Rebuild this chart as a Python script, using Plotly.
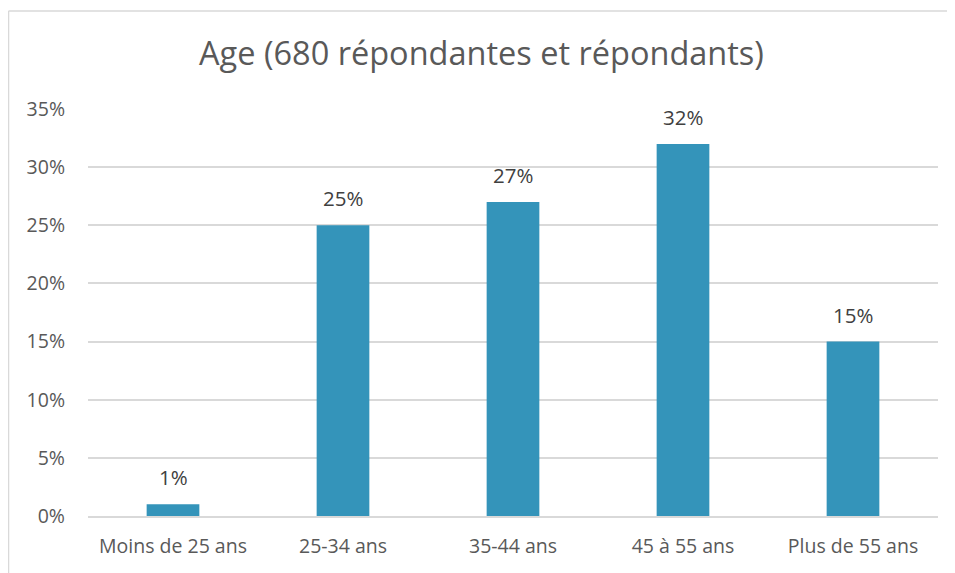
import plotly.graph_objects as go

# %%
categories = ["Moins de 25 ans", "25-34 ans", "35-44 ans", "45 à 55 ans", "Plus de 55 ans"]
values = [1, 25, 27, 32, 15]
tick_vals = [0, 5, 10, 15, 20, 25, 30, 35]
tick_text = ["0%", "5%", "10%", "15%", "20%", "25%", "30%", "35%"]

font_name = "Open Sans"
grey = "#595959"

# %%
fig = go.Figure()
fig.add_trace(go.Bar(x=categories, y=values, marker_color="#3494BA",
                     marker_line_width=0, hoverinfo="skip"))

for cat, val in zip(categories, values):
    fig.add_annotation(x=cat, y=val, text=f"{val}%", showarrow=False,
                       yanchor="bottom", yshift=11,
                       font=dict(family=font_name, size=20.5, color="#404040"))

# light frame (left and top edges only are visible in the window)
frame = dict(color="#D9D9D9", width=1.5)
fig.add_shape(type="line", xref="paper", yref="paper",
              x0=-0.0935, x1=-0.0935, y0=-0.4, y1=1.2408, line=frame)
fig.add_shape(type="line", xref="paper", yref="paper",
              x0=-0.0935, x1=1.02, y0=1.2408, y1=1.2408, line=frame)

# the page body adds an 8px margin, so the figure is a bit smaller than the window
fig.update_layout(
    title=dict(text="Age (680 répondantes et répondants)", x=0.5, xanchor="center",
               y=0.9186, yanchor="middle",
               font=dict(family=font_name, size=32.5, color=grey)),
    width=947, height=565,
    margin=dict(l=80, r=17, t=101, b=57),
    plot_bgcolor="white", paper_bgcolor="white",
    bargap=0.69, showlegend=False,
    font=dict(family=font_name, size=19, color=grey),
    xaxis=dict(showgrid=False, showline=True, linecolor="#D9D9D9", linewidth=1.5,
               ticks="", ticklabelstandoff=12, tickfont=dict(size=19.5)),
    yaxis=dict(range=[0, 35], tickvals=tick_vals, ticktext=tick_text,
               showgrid=True, gridcolor="#D9D9D9", gridwidth=1.5,
               zeroline=False, ticks="", ticklabelstandoff=22,
               tickfont=dict(size=19.5)),
)

fig.write_html("out.html")
